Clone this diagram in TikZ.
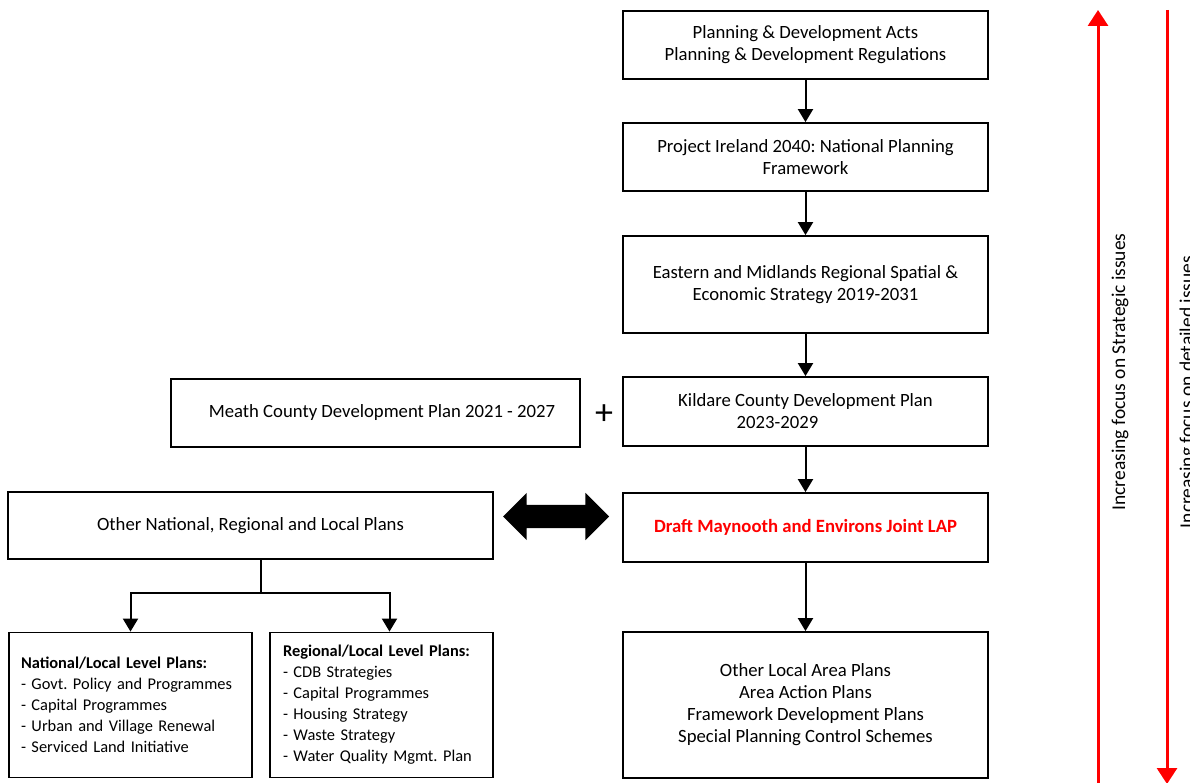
\documentclass[tikz,border=0pt]{standalone}
\usepackage{fontspec}
\setmainfont{Carlito}
\usepackage{tikz}
\usetikzlibrary{arrows.meta}
\usetikzlibrary{shapes.arrows}
\frenchspacing
\definecolor{planred}{RGB}{255,0,0}
\tikzstyle{plan}=[draw, line width=1.8pt, inner sep=0pt, align=center, font=\fontsize{18.7}{22}\selectfont]
\tikzstyle{wideplan}=[plan, minimum width=365pt]
\tikzstyle{subplan}=[plan, minimum width=243pt, minimum height=145pt, align=left, font=\fontsize{16.4}{21}\selectfont]
\tikzstyle{flow}=[line width=2pt, -{Triangle[width=15pt, length=13pt]}]
\tikzstyle{focus}=[line width=3pt, planred, -{Triangle[width=20pt, length=16pt]}]
\tikzstyle{focuslabel}=[rotate=90, inner sep=0pt, font=\fontsize{19.5}{22}\selectfont]

\begin{document}
\begin{tikzpicture}[x=1pt, y=-1pt]
        \useasboundingbox (0, 0) rectangle (1190, 783);
        \node[wideplan, minimum height=68pt] (acts) at (805.5, 45) {Planning \& Development Acts\\Planning \& Development Regulations};
        \node[wideplan, minimum height=68pt] (npf) at (805.5, 157) {Project Ireland 2040: National Planning\\Framework};
        \node[wideplan, minimum height=97pt] (rses) at (805.5, 284.5) {Eastern and Midlands Regional Spatial \&\\Economic Strategy 2019-2031};
        \node[wideplan, minimum height=69pt] (kildare) at (805.5, 411.5) {Kildare County Development Plan\\\hspace*{-56pt}2023-2029};
        \node[plan, minimum width=409pt, minimum height=68pt] (meath) at (375.5, 413) {\hspace*{13pt}Meath County Development Plan 2021 - 2027};
        \node[font=\fontsize{36}{36}\selectfont, inner sep=0pt] (plus) at (604, 415) {+};
        \node[wideplan, minimum height=69pt, text=planred, font=\fontsize{18.7}{22}\selectfont\bfseries] (draft) at (805.5, 527.5) {Draft Maynooth and Environs Joint LAP};
        \node[plan, minimum width=485pt, minimum height=67pt] (other) at (250.5, 525.5) {Other National, Regional and Local Plans};
        \node[double arrow, fill=black, inner xsep=0pt, inner ysep=11.5pt, minimum width=47pt, minimum height=106pt, double arrow head extend=12pt] (link) at (556, 516.5) {};
        \node[wideplan, minimum height=146pt] (local) at (805.5, 705) {Other Local Area Plans\\Area Action Plans\\Framework Development Plans\\Special Planning Control Schemes};
        \node[subplan, text width=219pt] (natl) at (130.5, 705) {\textbf{National/Local Level Plans:}\\- Govt. Policy and Programmes\\- Capital Programmes\\- Urban and Village Renewal\\- Serviced Land Initiative};
        \node[subplan, minimum width=223pt, text width=197pt] (regl) at (381.5, 705) {\textbf{Regional/Local Level Plans:}\\- CDB Strategies\\- Capital Programmes\\- Housing Strategy\\- Waste Strategy\\- Water Quality Mgmt. Plan};
        \draw[flow] (acts) -- (npf);
        \draw[flow] (npf) -- (rses);
        \draw[flow] (rses) -- (kildare);
        \draw[flow] (kildare) -- (draft);
        \draw[flow] (draft) -- (local);
        \coordinate (fork) at (261, 593);
        \draw[line width=2pt] (fork |- other.south) -- (fork);
        \draw[flow] (fork) -| (natl.north);
        \draw[flow] (fork) -| ([xshift=8pt]regl.north);
        \coordinate (stratlow) at (1098, 790);
        \coordinate (strathigh) at (1098, 10);
        \coordinate (detailhigh) at (1167, 10);
        \coordinate (detaillow) at (1167, 784);
        \draw[focus] (stratlow) -- (strathigh);
        \draw[focus] (detailhigh) -- (detaillow);
        \node[focuslabel] (stratlabel) at (1120, 372) {Increasing focus on Strategic issues};
        \node[focuslabel] (detaillabel) at (1188, 392) {Increasing focus on detailed issues};
    \end{tikzpicture}
\end{document}
